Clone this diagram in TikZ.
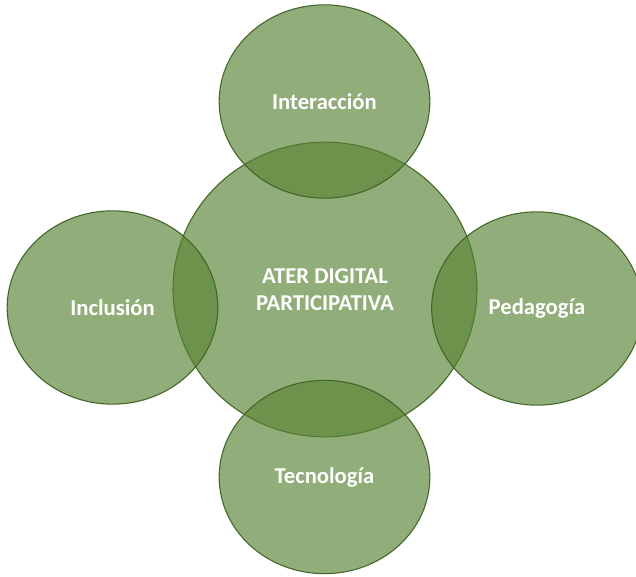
\documentclass[tikz,border=0pt]{standalone}
\usepackage{fontspec}
\setmainfont{Carlito}
\usetikzlibrary{shapes.geometric}
\definecolor{leafgreen}{RGB}{88,131,51}
\definecolor{rimgreen}{RGB}{66,102,40}

\begin{document}
\begin{tikzpicture}[x=0.75pt,y=-0.75pt,
  bubble/.style={ellipse, fill=leafgreen, fill opacity=0.66, text opacity=1,
    draw=rimgreen, line width=0.8pt, text=white, inner sep=0pt, align=center,
    font=\bfseries\fontsize{17}{20}\selectfont},
  side/.style={bubble, minimum width=158pt, minimum height=145pt}]
\useasboundingbox (0,0) rectangle (636,576);
\clip (0,0) rectangle (636,576);
\node[bubble, minimum width=228pt, minimum height=221pt] (ater) at (325,289.5) {ATER DIGITAL\\PARTICIPATIVA};
\node[side] (interaccion) at (324.5,101.5) {Interacción};
\node[side] (inclusion) at (112.5,307.5) {Inclusión};
\node[side] (pedagogia) at (537,308.5) {Pedagogía};
\node[side] (tecnologia) at (324.5,477) {Tecnología};
\end{tikzpicture}
\end{document}
